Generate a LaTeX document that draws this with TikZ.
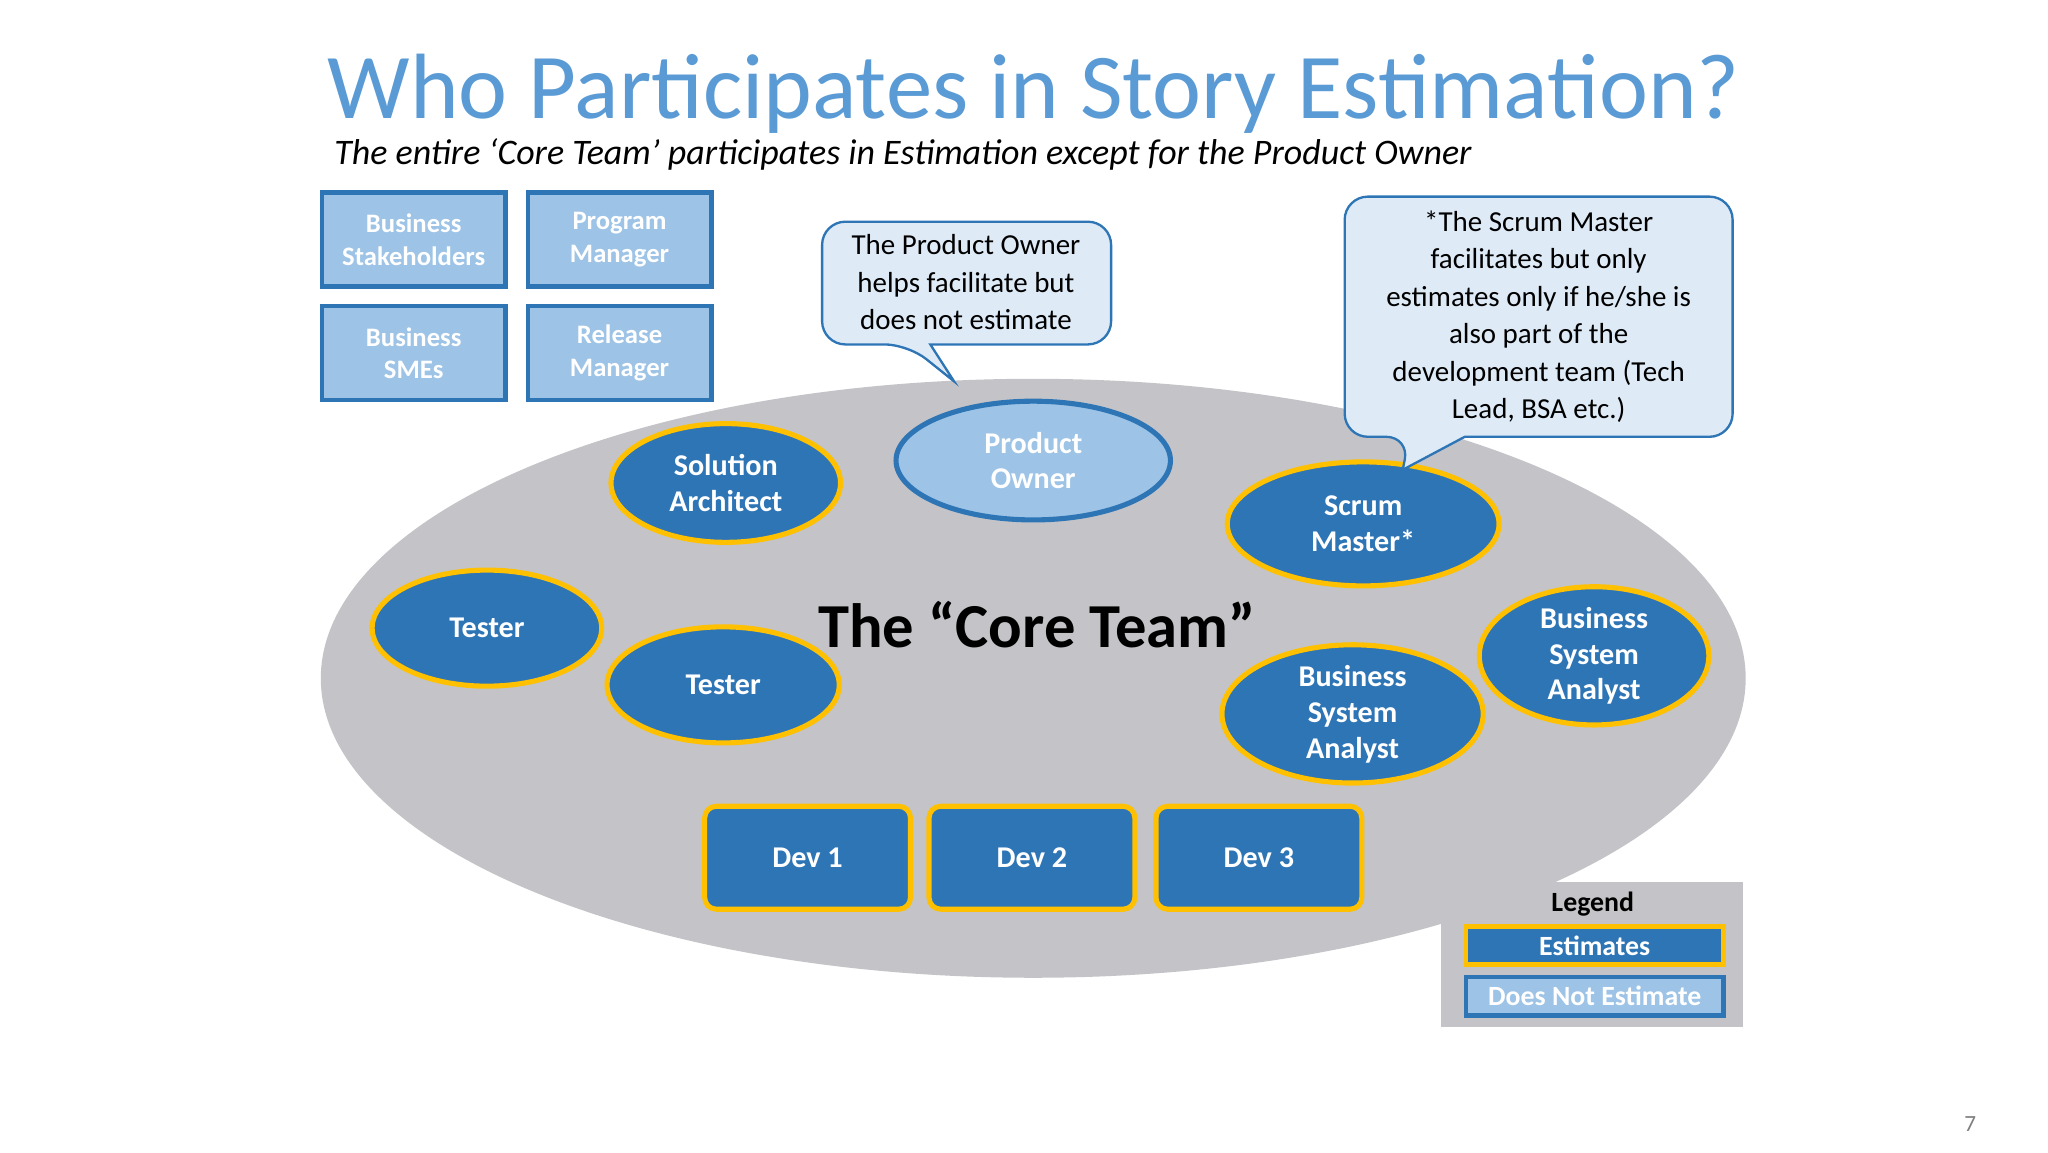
\documentclass[tikz,border=0pt]{standalone}
\usepackage{fontspec}
\setmainfont{Carlito}
\usetikzlibrary{shapes.geometric}
\definecolor{dblue}{RGB}{46,117,182}
\definecolor{lblue}{RGB}{157,195,230}
\definecolor{gold}{RGB}{255,192,0}
\definecolor{ttl}{RGB}{91,155,213}
\definecolor{grayb}{RGB}{196,196,200}
\definecolor{callf}{RGB}{222,235,247}
\tikzset{
 est/.style={ellipse,fill=dblue,draw=gold,line width=2.2pt,text=white,font=\fontsize{13}{15.5}\selectfont\bfseries,align=center,inner sep=0pt},
 noest/.style={ellipse,fill=lblue,draw=dblue,line width=2.2pt,text=white,font=\fontsize{13}{15.5}\selectfont\bfseries,align=center,inner sep=0pt},
 sbox/.style={rectangle,fill=lblue,draw=dblue,line width=2pt,text=white,font=\fontsize{11.5}{14}\selectfont\bfseries,align=center,minimum width=2.78cm,minimum height=1.42cm,inner sep=0pt},
 dev/.style={rectangle,rounded corners=5pt,fill=dblue,draw=gold,line width=2.2pt,text=white,font=\fontsize{13}{15}\selectfont\bfseries,minimum width=3.12cm,minimum height=1.56cm},
 call/.style={fill=callf,draw=dblue,line width=1pt,rounded corners=10pt},
 calltxt/.style={font=\fontsize{12.5}{16.2}\selectfont,align=center,text=black}
}
\begin{document}
\begin{tikzpicture}[x=0.02cm,y=-0.02cm]
\useasboundingbox[fill=white] (0,0) rectangle (1552,873);
\node[anchor=base west,text=ttl,font=\fontsize{40}{44}\selectfont,inner sep=0pt] (title) at (248,90) {Who Participates in Story Estimation?};
\node[anchor=base west,font=\fontsize{15.5}{18}\selectfont\itshape,inner sep=0pt] (sub) at (253,125) {The entire ‘Core Team’ participates in Estimation except for the Product Owner};
\node[sbox] (bs) at (313.5,181.5) {Business\\Stakeholders};
\node[sbox] (pm) at (469.5,181.5) {Program\\Manager};
\node[sbox] (bsme) at (313.5,267.5) {Business\\SMEs};
\node[sbox] (rm) at (469.5,267.5) {Release\\Manager};
\node[ellipse,fill=grayb,minimum width=21.6cm,minimum height=9.08cm] (core) at (783,514) {};
\node[font=\fontsize{27}{30}\selectfont\bfseries] (ct) at (786,473) {The “Core Team”};
\node[est,minimum width=3.48cm,minimum height=1.8cm] (sa) at (550,366) {Solution\\Architect};
\node[noest,minimum width=4.16cm,minimum height=1.8cm] (po) at (783,349) {Product\\Owner};
\node[est,minimum width=4.12cm,minimum height=1.88cm] (sm) at (1033,397) {Scrum\\Master*};
\node[est,minimum width=3.48cm,minimum height=1.76cm] (t1) at (369,476) {Tester};
\node[est,minimum width=3.52cm,minimum height=1.76cm] (t2) at (548,519) {Tester};
\node[est,minimum width=3.96cm,minimum height=1.76cm] (bsa1) at (1025,541) {Business\\System\\Analyst};
\node[est,minimum width=3.48cm,minimum height=1.8cm] (bsa2) at (1208,497) {Business\\System\\Analyst};
\node[dev] (d1) at (612,650) {Dev 1};
\node[dev] (d2) at (782,650) {Dev 2};
\node[dev] (d3) at (954,650) {Dev 3};
% callouts
\draw[call] (705,261) -- (842,261) -- (842,168) -- (623,168) -- (623,261) -- (688,261) [sharp corners]-- (723,289) -- (705,261) -- cycle;
\node[calltxt] (poc) at (732,214) {The Product Owner\\helps facilitate but\\does not estimate};
\draw[call] (1110,331) -- (1313,331) -- (1313,149) -- (1019,149) -- (1019,331) -- (1068,331) [sharp corners]-- (1063,356) -- (1110,331) -- cycle;
\node[calltxt] (smc) at (1166,240) {*The Scrum Master\\facilitates but only\\estimates only if he/she is\\also part of the\\development team (Tech\\Lead, BSA etc.)};
% legend
\node[rectangle,fill=grayb,minimum width=4.58cm,minimum height=2.2cm,inner sep=0pt] (leg) at (1206.5,723) {};
\node[font=\fontsize{12}{14}\selectfont\bfseries] (legt) at (1207,685) {Legend};
\node[rectangle,fill=dblue,draw=gold,line width=2pt,text=white,font=\fontsize{12}{14}\selectfont\bfseries,minimum width=3.9cm,minimum height=0.58cm,inner sep=0pt] (le) at (1208.5,716.5) {Estimates};
\node[rectangle,fill=lblue,draw=dblue,line width=2pt,text=white,font=\fontsize{12}{14}\selectfont\bfseries,minimum width=3.9cm,minimum height=0.58cm,inner sep=0pt] (ln) at (1208.5,755) {Does Not Estimate};
\node[text=gray,font=\fontsize{10}{12}\selectfont] (pg) at (1493,852) {7};
\end{tikzpicture}
\end{document}
